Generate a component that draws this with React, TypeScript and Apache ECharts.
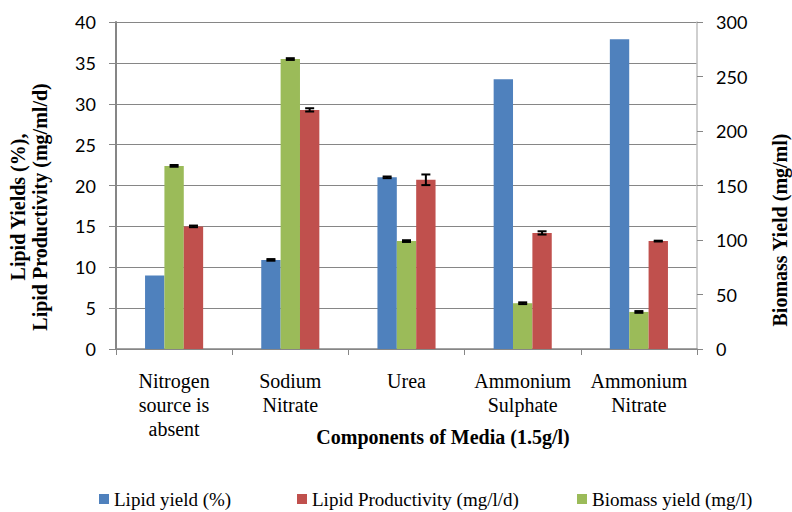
import React, { useEffect, useRef } from "react";
import * as echarts from "echarts";

const categories = [
  "Nitrogen\nsource is\nabsent",
  "Sodium\nNitrate",
  "Urea",
  "Ammonium\nSulphate",
  "Ammonium\nNitrate",
];
const lipidYield = [9.0, 10.9, 21.0, 33.0, 37.9];
const lipidYieldErr = [0, 0.1, 0.1, 0, 0];
const biomassYield = [168, 266, 99, 42, 34];
const biomassYieldErr = [0.8, 0.8, 0.8, 0.8, 0.8];
const lipidProductivity = [15.0, 29.25, 20.7, 14.2, 13.2];
const lipidProductivityErr = [0.1, 0.2, 0.65, 0.2, 0.05];
const leftTicks = { min: 0, max: 40, interval: 5 };
const rightTicks = { min: 0, max: 300, interval: 50 };

const SERIF = "Liberation Serif";
const SANS = "Lato";

function errorSeries(name: string, values: number[], errs: number[], slot: number, yAxisIndex: number) {
  const data = values
    .map((v, i) => [i, v - errs[i], v + errs[i], errs[i]])
    .filter((d) => d[3] > 0);
  return {
    name,
    type: "custom",
    yAxisIndex,
    silent: true,
    z: 5,
    data,
    renderItem: (params: any, api: any) => {
      const idx = api.value(0);
      const lo = api.value(1);
      const hi = api.value(2);
      const catW = api.size([1, 0])[0];
      const barW = (catW * 0.5) / 3;
      const off = (slot - 1) * barW;
      const pHi = api.coord([idx, hi]);
      const pLo = api.coord([idx, lo]);
      const x = pHi[0] + off;
      const cap = 4.5;
      const style = { stroke: "#000", lineWidth: 2 };
      return {
        type: "group",
        children: [
          { type: "line", shape: { x1: x, y1: pHi[1], x2: x, y2: pLo[1] }, style },
          { type: "line", shape: { x1: x - cap, y1: pHi[1], x2: x + cap, y2: pHi[1] }, style },
          { type: "line", shape: { x1: x - cap, y1: pLo[1], x2: x + cap, y2: pLo[1] }, style },
        ],
      };
    },
  };
}

export default function App() {
  const ref = useRef<HTMLDivElement>(null);
  useEffect(() => {
    if (!ref.current) return;
    const chart = echarts.init(ref.current, undefined, { renderer: "svg" });
    const legendBase = {
      top: 484,
      itemWidth: 10,
      itemHeight: 10,
      icon: "rect",
      selectedMode: false,
      textStyle: { fontFamily: SERIF, fontSize: 19, color: "#000", lineHeight: 20 },
    };
    chart.setOption({
      animation: false,
      backgroundColor: "#fff",
      grid: { left: 116, right: 95, top: 22, bottom: 163, containLabel: false },
      legend: [
        { ...legendBase, left: 94, data: ["Lipid yield (%)"] },
        { ...legendBase, left: 292, data: ["Lipid Productivity (mg/l/d)"] },
        { ...legendBase, left: 572, data: ["Biomass yield (mg/l)"] },
      ],
      xAxis: {
        type: "category",
        data: categories,
        boundaryGap: true,
        axisLine: { lineStyle: { color: "#868686", width: 1.5 } },
        axisTick: { show: true, length: 6, alignWithLabel: false, lineStyle: { color: "#868686" } },
        axisLabel: {
          interval: 0,
          margin: 20,
          fontFamily: SERIF,
          fontSize: 20,
          lineHeight: 24,
          color: "#000",
        },
      },
      yAxis: [
        {
          type: "value",
          min: leftTicks.min,
          max: leftTicks.max,
          interval: leftTicks.interval,
          axisLine: { show: true, lineStyle: { color: "#868686", width: 2 } },
          axisTick: { show: true, length: 7, lineStyle: { color: "#868686" } },
          splitLine: { show: true, lineStyle: { color: "#868686", width: 1.2 } },
          axisLabel: { margin: 20, fontFamily: SANS, fontSize: 18, color: "#000" },
        },
        {
          type: "value",
          position: "right",
          min: rightTicks.min,
          max: rightTicks.max,
          interval: rightTicks.interval,
          axisLine: { show: true, lineStyle: { color: "#bfbfbf", width: 1.5 } },
          axisTick: { show: true, length: 6, lineStyle: { color: "#868686" } },
          splitLine: { show: false },
          axisLabel: { margin: 19, fontFamily: SANS, fontSize: 18, color: "#000" },
        },
      ],
      series: [
        {
          name: "Lipid yield (%)",
          type: "bar",
          yAxisIndex: 0,
          data: lipidYield,
          barGap: "0%",
          barCategoryGap: "50%",
          itemStyle: { color: "#4f81bd" },
        },
        {
          name: "Biomass yield (mg/l)",
          type: "bar",
          yAxisIndex: 1,
          data: biomassYield,
          barGap: "0%",
          barCategoryGap: "50%",
          itemStyle: { color: "#9bbb59" },
        },
        {
          name: "Lipid Productivity (mg/l/d)",
          type: "bar",
          yAxisIndex: 0,
          data: lipidProductivity,
          barGap: "0%",
          barCategoryGap: "50%",
          itemStyle: { color: "#c0504d" },
        },
        errorSeries("err-lipid", lipidYield, lipidYieldErr, 0, 0),
        errorSeries("err-biomass", biomassYield, biomassYieldErr, 1, 1),
        errorSeries("err-prod", lipidProductivity, lipidProductivityErr, 2, 0),
      ],
      graphic: [
        {
          type: "text",
          x: 29,
          y: 207,
          rotation: Math.PI / 2,
          style: {
            text: "Lipid Yields (%),\nLipid Productivity (mg/ml/d)",
            fontFamily: SERIF,
            fontSize: 20,
            fontWeight: "bold",
            lineHeight: 22,
            fill: "#000",
            align: "center",
            verticalAlign: "middle",
          },
        },
        {
          type: "text",
          x: 780,
          y: 230,
          rotation: Math.PI / 2,
          style: {
            text: "Biomass Yield (mg/ml)",
            fontFamily: SERIF,
            fontSize: 20,
            fontWeight: "bold",
            fill: "#000",
            align: "center",
            verticalAlign: "middle",
          },
        },
        {
          type: "text",
          x: 443,
          y: 437,
          style: {
            text: "Components of Media (1.5g/l)",
            fontFamily: SERIF,
            fontSize: 20,
            fontWeight: "bold",
            fill: "#000",
            align: "center",
            verticalAlign: "middle",
          },
        },
      ],
    });
    return () => chart.dispose();
  }, []);
  return <div ref={ref} style={{ width: 792, height: 512, position: "absolute", left: 0, top: 0 }} />;
}
